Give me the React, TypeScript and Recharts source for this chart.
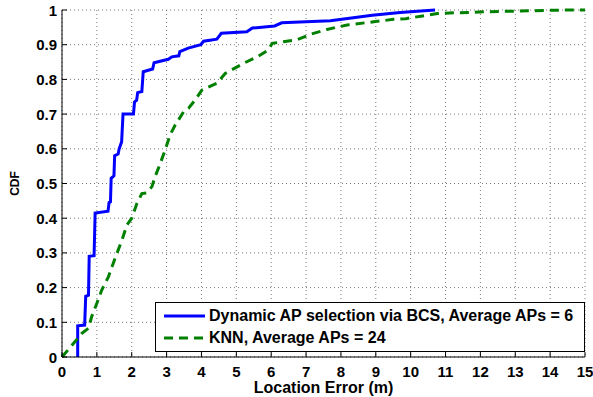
import { LineChart, Line, XAxis, YAxis, CartesianGrid, Legend } from 'recharts'

// location error (m) and CDF
const bcsError = [0.45, 0.45, 0.65, 0.68, 0.76, 0.78, 0.92, 0.95, 1.32, 1.35, 1.39, 1.41, 1.49, 1.51, 1.61, 1.64, 1.71, 1.75, 2.05, 2.08, 2.14, 2.17, 2.29, 2.33, 2.6, 2.64, 3.05, 3.15, 3.35, 3.38, 3.62, 3.98, 4.06, 4.44, 4.57, 5.3, 5.46, 6.1, 6.3, 7.7, 8.9, 9.7, 10.7]
const bcsCdf = [0, 0.09, 0.092, 0.175, 0.178, 0.29, 0.292, 0.415, 0.42, 0.445, 0.447, 0.515, 0.522, 0.58, 0.585, 0.6, 0.62, 0.7, 0.7, 0.735, 0.74, 0.762, 0.765, 0.822, 0.83, 0.848, 0.858, 0.865, 0.868, 0.88, 0.89, 0.9, 0.91, 0.916, 0.933, 0.937, 0.948, 0.954, 0.963, 0.969, 0.985, 0.993, 1.0]

const knnError = [0, 0.37, 0.57, 0.76, 0.85, 1.0, 1.14, 1.33, 1.52, 1.72, 1.86, 2.0, 2.15, 2.29, 2.43, 2.58, 2.67, 2.77, 2.96, 3.1, 3.25, 3.49, 3.63, 3.82, 4.01, 4.44, 4.68, 5.2, 5.63, 5.92, 6.03, 6.74, 7.13, 7.6, 8.18, 8.94, 9.51, 9.86, 10.34, 10.77, 11.24, 11.72, 12.16, 12.63, 13.07, 13.5, 14.0, 14.45, 15]
const knnCdf = [0, 0.044, 0.068, 0.083, 0.116, 0.155, 0.193, 0.231, 0.284, 0.337, 0.38, 0.4, 0.443, 0.471, 0.473, 0.491, 0.52, 0.545, 0.597, 0.64, 0.669, 0.707, 0.717, 0.741, 0.769, 0.789, 0.817, 0.846, 0.867, 0.885, 0.904, 0.914, 0.93, 0.944, 0.957, 0.966, 0.973, 0.975, 0.983, 0.99, 0.992, 0.993, 0.995, 0.996, 0.997, 0.998, 0.999, 1.0, 1.0]

const xTicks = [0, 1, 2, 3, 4, 5, 6, 7, 8, 9, 10, 11, 12, 13, 14, 15]
const yTicks = [0, 0.1, 0.2, 0.3, 0.4, 0.5, 0.6, 0.7, 0.8, 0.9, 1]

const bcsLabel = 'Dynamic AP selection via BCS, Average APs = 6'
const knnLabel = 'KNN, Average APs = 24'

const bcsData = bcsError.map((x, i) => ({ x, y: bcsCdf[i] }))
const knnData = knnError.map((x, i) => ({ x, y: knnCdf[i] }))

const FONT = '"Liberation Sans", Arial, Helvetica, sans-serif'
const TICK = 5

const fmtY = (v: number) => (v === 0 || v === 1 ? String(v) : v.toFixed(1))

function BottomTick({ x, y, payload }: any) {
  return (
    <g>
      <line x1={x} x2={x} y1={y} y2={y - TICK} stroke="#000" />
      <text x={x} y={y + 20} textAnchor="middle" fontFamily={FONT} fontWeight="bold" fontSize={15} fill="#000">
        {payload.value}
      </text>
    </g>
  )
}

function LeftTick({ x, y, payload }: any) {
  return (
    <g>
      <line x1={x} x2={x + TICK} y1={y} y2={y} stroke="#000" />
      <text x={x - 5} y={y + 5.5} textAnchor="end" fontFamily={FONT} fontWeight="bold" fontSize={15} fill="#000">
        {fmtY(payload.value)}
      </text>
    </g>
  )
}

function TopTick({ x, y }: any) {
  return <line x1={x} x2={x} y1={y} y2={y + TICK} stroke="#000" />
}

function RightTick({ x, y }: any) {
  return <line x1={x} x2={x - TICK} y1={y} y2={y} stroke="#000" />
}

function LegendBox({ payload }: any) {
  return (
    <div
      style={{
        width: 428,
        height: 46,
        border: '1px solid #000',
        background: '#fff',
        fontFamily: FONT,
        fontWeight: 'bold',
        fontSize: 16,
        color: '#000',
        paddingTop: 2,
        boxSizing: 'content-box',
      }}
    >
      {(payload || []).map((entry: any) => (
        <div key={entry.value} style={{ display: 'flex', alignItems: 'center', height: 22 }}>
          <svg width={53} height={10} style={{ flex: 'none' }}>
            <line
              x1={8}
              x2={49}
              y1={5}
              y2={5}
              stroke={entry.color}
              strokeWidth={3}
              strokeDasharray={entry.payload?.strokeDasharray}
            />
          </svg>
          <span style={{ whiteSpace: 'nowrap' }}>{entry.value}</span>
        </div>
      ))}
    </div>
  )
}

export default function App() {
  return (
    <div style={{ position: 'absolute', left: 0, top: 0, width: 593, height: 397, background: '#fff' }}>
      <LineChart width={593} height={397} margin={{ top: 10, right: 8, bottom: 0, left: 0 }}>
        <CartesianGrid stroke="#777" strokeDasharray="1 3" />
        <XAxis
          dataKey="x"
          type="number"
          domain={[0, 15]}
          ticks={xTicks}
          height={40}
          axisLine={{ stroke: '#000' }}
          tickLine={false}
          tickSize={0}
          tickMargin={0}
          tick={<BottomTick />}
          interval={0}
          label={{
            value: 'Location Error (m)',
            position: 'insideBottom',
            offset: 4,
            style: { fontFamily: FONT, fontWeight: 'bold', fontSize: 16, fill: '#000' },
          }}
        />
        <XAxis
          xAxisId="top"
          orientation="top"
          type="number"
          domain={[0, 15]}
          ticks={xTicks}
          height={0}
          axisLine={{ stroke: '#000' }}
          tickLine={false}
          tickSize={0}
          tickMargin={0}
          tick={<TopTick />}
          interval={0}
        />
        <YAxis
          dataKey="y"
          type="number"
          domain={[0, 1]}
          ticks={yTicks}
          width={62}
          axisLine={{ stroke: '#000' }}
          tickLine={false}
          tickSize={0}
          tickMargin={0}
          tick={<LeftTick />}
          interval={0}
          label={{
            value: 'CDF',
            angle: -90,
            position: 'insideLeft',
            offset: 15,
            style: { fontFamily: FONT, fontWeight: 'bold', fontSize: 12, fill: '#000', textAnchor: 'middle' },
          }}
        />
        <YAxis
          yAxisId="right"
          orientation="right"
          type="number"
          domain={[0, 1]}
          ticks={yTicks}
          width={0}
          axisLine={{ stroke: '#000' }}
          tickLine={false}
          tickSize={0}
          tickMargin={0}
          tick={<RightTick />}
          interval={0}
        />
        <Line
          data={bcsData}
          dataKey="y"
          name={bcsLabel}
          type="linear"
          stroke="#0000ff"
          strokeWidth={3}
          dot={false}
          isAnimationActive={false}
        />
        <Line
          data={knnData}
          dataKey="y"
          name={knnLabel}
          type="linear"
          stroke="#008000"
          strokeWidth={3}
          strokeDasharray="9 6"
          dot={false}
          isAnimationActive={false}
        />
        <Legend
          layout="horizontal"
          verticalAlign="middle"
          align="center"
          content={<LegendBox />}
          wrapperStyle={{ position: 'absolute', left: 155, top: 302, width: 430, height: 48 }}
        />
      </LineChart>
    </div>
  )
}
